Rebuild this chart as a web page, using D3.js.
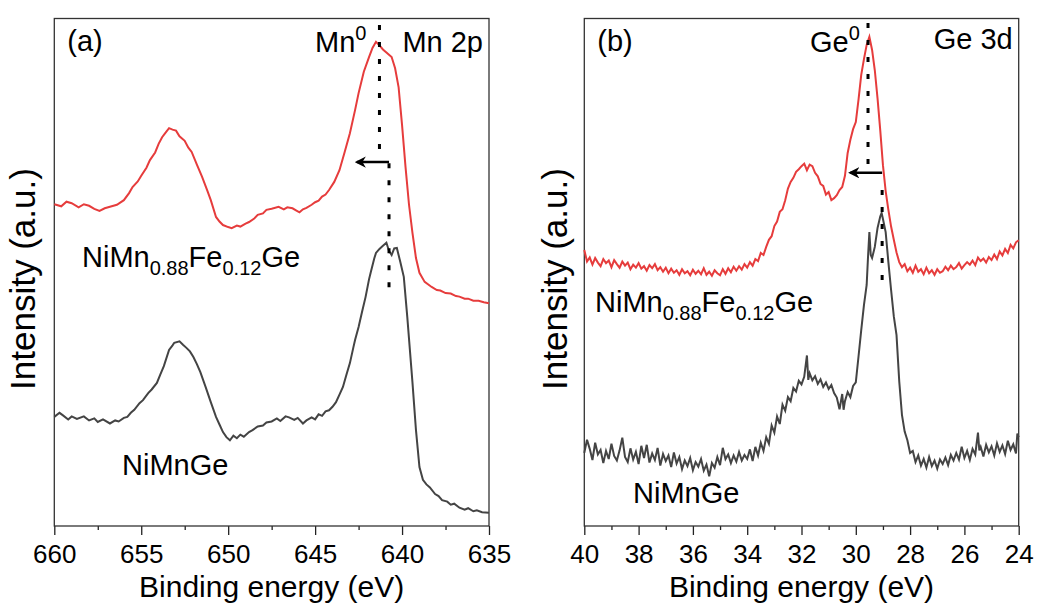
<!DOCTYPE html>
<html>
<head>
<meta charset="utf-8">
<script src="https://cdn.jsdelivr.net/npm/d3@7"></script>
<style>
  body { margin: 0; background: #fff; }
  svg { font-family: "Liberation Sans", Arial, sans-serif; }
</style>
</head>
<body>
<svg width="1038" height="604"></svg>
<script>
// Mn 2p panel, [binding energy, intensity a.u.]
var mnFe = [[660,63.4],[659.6,63.0],[659.3,63.9],[659,63.6],[658.6,62.8],[658.3,63.4],[658,63.1],[657.7,62.5],[657.4,62.1],[657.1,62.6],
  [656.8,62.9],[656.4,63.3],[656,64.2],[655.7,65.6],[655.5,66.8],[655.2,67.9],[655,69.0],[654.7,70.6],[654.5,72.1],[654.2,73.6],
  [654,75.3],[653.8,76.6],[653.6,77.5],[653.4,78.4],[653.2,78.1],[653,77.9],[652.8,76.8],[652.5,75.9],[652.3,74.6],[652.1,73.7],
  [651.8,71.2],[651.5,68.8],[651.2,66.1],[651,64.2],[650.7,60.9],[650.5,60.0],[650.3,59.3],[650,58.9],[649.8,58.7],[649.5,59.2],
  [649.3,59.0],[649,59.6],[648.8,59.9],[648.5,60.6],[648.3,61.3],[648,61.6],[647.8,62.3],[647.5,62.5],[647.1,62.9],[646.8,62.4],
  [646.6,62.8],[646.3,62.6],[646.1,62.2],[645.9,61.8],[645.7,62.4],[645.5,62.7],[645.2,63.3],[645,63.8],[644.8,64.1],[644.6,64.9],
  [644.4,65.3],[644.2,66.2],[643.9,67.8],[643.6,70.1],[643.3,73.7],[643,77.4],[642.7,82.0],[642.5,85.3],[642.2,89.5],[641.9,92.4],
  [641.7,94.2],[641.5,95.4],[641.3,94.7],[641.1,93.9],[640.9,93.3],[640.6,92.4],[640.4,90.2],[640.2,86.5],[640,79.0],[639.8,70.7],
  [639.6,63.3],[639.4,57.7],[639.2,52.8],[639,49.9],[638.7,48.1],[638.3,47.1],[638,46.5],[637.8,46.4],[637.5,45.9],[637.2,45.8],
  [636.9,45.3],[636.7,45.2],[636.4,44.8],[636.2,44.8],[635.9,44.4],[635.6,44.4],[635.3,44.1],[635,43.9]];
var mnPure = [[660,21.5],[659.7,22.3],[659.5,21.8],[659.2,21.0],[659,21.6],[658.7,21.1],[658.3,21.6],[658,20.8],[657.7,21.2],[657.5,20.5],
  [657.2,21.0],[656.8,20.2],[656.5,20.8],[656.3,20.6],[656,21.3],[655.8,21.5],[655.6,22.3],[655.4,22.9],[655.1,24.2],[654.9,24.8],
  [654.6,26.2],[654.4,26.9],[654.1,28.2],[653.9,29.9],[653.7,31.5],[653.4,34.7],[653.2,35.6],[653.1,36.1],[652.8,36.4],[652.6,35.7],
  [652.4,35.1],[652.2,34.4],[652,33.3],[651.8,31.9],[651.6,30.3],[651.3,27.4],[651,24.4],[650.7,21.5],[650.5,20.0],[650.3,18.5],
  [650.1,17.5],[649.9,16.9],[649.7,17.8],[649.5,17.3],[649.3,18.0],[649.1,17.6],[648.8,18.5],[648.6,18.9],[648.3,19.6],[648,19.8],
  [647.8,20.4],[647.5,20.6],[647.2,21.2],[647,20.7],[646.7,21.6],[646.5,21.4],[646.2,20.9],[646,21.3],[645.7,20.2],[645.5,20.8],
  [645.2,21.4],[645,21.0],[644.8,22.0],[644.6,21.7],[644.4,22.6],[644.2,22.8],[644,23.5],[643.8,24.4],[643.6,25.9],[643.4,27.4],
  [643.2,29.8],[643,32.1],[642.8,35.2],[642.7,36.7],[642.5,39.2],[642.3,42.2],[642.1,45.1],[641.9,48.6],[641.8,50.0],[641.6,52.7],
  [641.5,53.8],[641.3,54.6],[641.1,55.2],[640.9,55.8],[640.75,54.2],[640.6,53.4],[640.45,54.7],[640.3,54.8],[640.1,52.0],[639.9,49.1],
  [639.7,41.2],[639.55,34.7],[639.4,28.2],[639.2,18.9],[639,11.6],[638.8,9.1],[638.6,8.2],[638.4,7.6],[638.1,6.3],[637.9,5.9],
  [637.7,5.1],[637.4,4.8],[637.2,4.2],[637,4.4],[636.7,3.6],[636.4,3.2],[636.2,3.5],[635.9,2.9],[635.7,3.1],[635.4,2.7],[635,2.6]];

// Ge 3d panel
var geFe = [[40,54.4],[39.9,52.1],[39.8,52.9],[39.7,51.5],[39.6,52.8],[39.5,51.9],[39.4,51.2],[39.3,52.6],[39.2,51.8],[39.1,52.3],
  [39,51.0],[38.9,52.4],[38.8,51.6],[38.7,50.9],[38.6,52.1],[38.5,51.3],[38.4,51.9],[38.3,50.6],[38.2,51.5],[38.1,50.9],
  [38,51.8],[37.9,50.7],[37.8,51.2],[37.7,50.3],[37.6,51.4],[37.5,50.8],[37.4,51.6],[37.3,50.4],[37.2,51.0],[37.1,50.1],
  [37,50.9],[36.9,49.8],[36.8,50.7],[36.7,49.9],[36.6,50.4],[36.5,49.5],[36.4,50.6],[36.3,49.8],[36.2,50.2],[36.1,49.4],
  [36,50.5],[35.9,49.7],[35.8,50.3],[35.7,49.6],[35.6,50.8],[35.5,49.5],[35.4,50.1],[35.3,49.3],[35.2,50.4],[35.1,49.8],
  [35,49.4],[34.9,50.6],[34.8,49.7],[34.7,50.8],[34.6,50.0],[34.5,51.1],[34.4,50.3],[34.3,51.2],[34.2,50.5],[34.1,51.6],
  [34,50.9],[33.9,52.0],[33.8,51.3],[33.7,52.6],[33.6,52.2],[33.5,53.8],[33.4,53.4],[33.3,55.0],[33.2,56.4],[33.1,57.1],
  [33,59.1],[32.9,60.0],[32.8,61.9],[32.7,62.4],[32.6,64.2],[32.5,66.5],[32.4,67.8],[32.3,68.6],[32.2,69.8],[32.1,70.3],
  [32,70.9],[31.9,71.4],[31.8,70.1],[31.7,71.2],[31.6,70.9],[31.5,69.6],[31.4,68.9],[31.3,67.4],[31.2,67.0],[31.1,65.3],
  [31,65.8],[30.9,64.2],[30.8,64.6],[30.7,65.2],[30.6,66.2],[30.5,66.8],[30.4,69.0],[30.3,73.5],[30.2,76.1],[30.1,78.2],
  [30,79.6],[29.9,84.0],[29.8,88.9],[29.7,92.0],[29.6,94.8],[29.5,96.4],[29.4,93.8],[29.3,89.8],[29.2,84.3],[29.1,78.0],
  [29,71.1],[28.9,66.0],[28.8,62.3],[28.7,59.0],[28.6,56.4],[28.5,53.9],[28.4,52.0],[28.3,51.0],[28.2,51.6],[28.1,50.2],
  [28,50.9],[27.9,49.9],[27.8,51.3],[27.7,50.1],[27.6,50.6],[27.5,49.6],[27.4,50.9],[27.3,49.8],[27.2,50.4],[27.1,49.5],
  [27,50.6],[26.9,49.9],[26.8,50.2],[26.7,51.1],[26.6,50.4],[26.5,51.3],[26.4,50.6],[26.3,51.0],[26.2,51.8],[26.1,50.7],
  [26,51.4],[25.9,52.0],[25.8,51.5],[25.7,52.3],[25.6,51.4],[25.5,52.9],[25.4,52.2],[25.3,52.7],[25.2,51.9],[25.1,53.0],
  [25,52.4],[24.9,53.5],[24.8,52.6],[24.7,54.1],[24.6,53.3],[24.5,54.6],[24.4,53.8],[24.3,55.4],[24.2,54.7],[24.1,55.9],[24,56.3]];
var gePure = [[40,14.4],[39.9,17.0],[39.8,15.2],[39.7,13.0],[39.6,16.4],[39.5,14.1],[39.4,15.0],[39.3,12.4],[39.2,14.8],[39.1,13.2],
  [39,16.2],[38.9,13.8],[38.8,12.9],[38.7,14.9],[38.6,17.4],[38.5,13.6],[38.4,12.6],[38.3,15.3],[38.2,13.1],[38.1,14.6],
  [38,12.2],[37.9,15.8],[37.8,13.4],[37.7,16.0],[37.6,12.5],[37.5,14.3],[37.4,13.0],[37.3,15.4],[37.2,11.9],[37.1,14.2],
  [37,12.8],[36.9,13.9],[36.8,11.6],[36.7,14.5],[36.6,12.3],[36.5,13.6],[36.4,11.2],[36.3,12.9],[36.2,11.8],[36.1,13.4],
  [36,11.0],[35.9,12.6],[35.8,11.7],[35.7,13.2],[35.6,10.9],[35.5,12.1],[35.4,9.8],[35.3,12.4],[35.2,11.5],[35.1,13.6],
  [35,12.0],[34.9,15.4],[34.8,13.2],[34.7,14.1],[34.6,12.4],[34.5,13.9],[34.4,12.7],[34.3,14.6],[34.2,12.9],[34.1,14.0],
  [34,13.2],[33.9,15.1],[33.8,12.8],[33.7,15.6],[33.6,13.9],[33.5,16.4],[33.4,14.8],[33.3,17.5],[33.2,16.2],[33.1,19.8],
  [33,18.4],[32.9,21.6],[32.8,20.1],[32.7,23.9],[32.6,22.7],[32.5,25.4],[32.4,24.6],[32.3,27.2],[32.2,26.5],[32.1,28.6],
  [32,27.9],[31.9,29.4],[31.8,33.6],[31.75,28.8],[31.7,30.1],[31.6,28.7],[31.5,29.5],[31.4,28.0],[31.3,28.9],[31.2,27.4],
  [31.1,28.3],[31,27.0],[30.9,27.8],[30.8,26.2],[30.7,25.3],[30.6,23.0],[30.5,26.0],[30.45,22.9],[30.4,24.6],[30.3,26.4],
  [30.2,25.4],[30.1,27.6],[30,28.3],[29.9,33.4],[29.8,38.6],[29.7,43.5],[29.6,47.5],[29.55,53.0],[29.5,57.9],[29.45,53.4],
  [29.4,52.8],[29.3,55.0],[29.2,58.7],[29.1,61.0],[29.05,61.7],[29,60.5],[28.9,57.9],[28.8,52.0],[28.7,46.5],[28.6,41.3],
  [28.5,37.6],[28.4,28.5],[28.3,21.9],[28.2,18.6],[28.1,16.9],[28,14.4],[27.9,14.8],[27.8,12.6],[27.7,13.9],[27.6,11.9],
  [27.5,13.2],[27.4,11.5],[27.3,13.6],[27.2,11.8],[27.1,12.9],[27,11.3],[26.9,13.1],[26.8,12.2],[26.7,13.5],[26.6,12.0],
  [26.5,14.0],[26.4,12.9],[26.3,14.4],[26.2,13.1],[26.1,15.6],[26,13.4],[25.9,14.8],[25.8,13.0],[25.7,15.2],[25.6,14.1],
  [25.5,18.4],[25.45,14.9],[25.4,15.6],[25.3,13.7],[25.2,16.0],[25.1,14.5],[25,15.7],[24.9,13.9],[24.8,16.3],[24.7,14.6],
  [24.6,15.9],[24.5,14.2],[24.4,16.8],[24.3,15.0],[24.2,16.1],[24.1,14.3],[24.05,18.2],[24,17.5]];

var mnTicks = [660, 655, 650, 645, 640, 635];
var geTicks = [40, 38, 36, 34, 32, 30, 28, 26, 24];

// reference lines: [energy, from, to] and shift arrows [from, to, level]
var mnRef = [[641.3, 98.7, 73.1], [640.75, 71.5, 45.9]];
var mnArrow = [640.75, 642.6, 71.7];
var geRef = [[29.55, 99.1, 70.1], [29.03, 66.2, 47.5]];
var geArrow = [29.03, 30.2, 69.6];

var red = "#e63c3c", gray = "#444";
var svg = d3.select("svg");
var plotTop = 18.5, plotBottom = 526;
var y = d3.scaleLinear().domain([0, 100]).range([plotBottom, plotTop]);

svg.append("defs").append("marker")
  .attr("id", "head").attr("viewBox", "0 0 10 10")
  .attr("refX", 8).attr("refY", 5)
  .attr("markerWidth", 4.5).attr("markerHeight", 4.5)
  .attr("orient", "auto-start-reverse")
  .append("path").attr("d", "M0,0L10,5L0,10L3,5Z").attr("fill", "#000");

function panel(o) {
  var x = d3.scaleLinear().domain(o.domain).range([o.left, o.right]);
  var g = svg.append("g");

  var minor = [];
  for (var i = 0; i < o.ticks.length - 1; i++) minor.push((o.ticks[i] + o.ticks[i + 1]) / 2);

  g.append("g").attr("transform", "translate(0," + plotBottom + ")")
    .call(d3.axisBottom(x).tickValues(minor).tickSize(4).tickFormat(""))
    .call(function(a) { a.select(".domain").remove(); a.selectAll("line").attr("stroke", "#222").attr("stroke-width", 1.3); });
  g.append("g").attr("transform", "translate(0," + plotBottom + ")")
    .call(d3.axisBottom(x).tickValues(o.ticks).tickSize(9).tickPadding(10).tickFormat(d3.format("d")))
    .call(function(a) {
      a.select(".domain").remove();
      a.selectAll("line").attr("stroke", "#222").attr("stroke-width", 1.3);
      a.selectAll("text").attr("font-size", 26).attr("fill", "#000")
        .attr("font-family", "'Liberation Sans', Arial, sans-serif");
    });

  g.append("rect").attr("x", o.left).attr("y", plotTop)
    .attr("width", o.right - o.left).attr("height", plotBottom - plotTop)
    .attr("fill", "none").attr("stroke", "#333").attr("stroke-width", 1.3);

  var line = d3.line().x(function(d) { return x(d[0]); }).y(function(d) { return y(d[1]); });
  g.append("path").datum(o.fe).attr("d", line).attr("fill", "none").attr("stroke", red).attr("stroke-width", 2);
  g.append("path").datum(o.pure).attr("d", line).attr("fill", "none").attr("stroke", gray).attr("stroke-width", 2);

  o.ref.forEach(function(r) {
    g.append("line").attr("x1", x(r[0])).attr("x2", x(r[0])).attr("y1", y(r[1])).attr("y2", y(r[2]))
      .attr("stroke", "#000").attr("stroke-width", 3).attr("stroke-dasharray", "5,12");
  });
  g.append("line").attr("x1", x(o.arrow[0])).attr("x2", x(o.arrow[1]))
    .attr("y1", y(o.arrow[2])).attr("y2", y(o.arrow[2]))
    .attr("stroke", "#000").attr("stroke-width", 2.5).attr("marker-end", "url(#head)");

  // x title
  g.append("text").attr("x", (o.left + o.right) / 2).attr("y", 597)
    .attr("text-anchor", "middle").attr("font-size", 30).text("Binding energy (eV)");
  // y title
  g.append("text").attr("transform", "translate(" + o.ylab + ",279) rotate(-90)")
    .attr("text-anchor", "middle").attr("font-size", 35).text("Intensity (a.u.)");

  g.append("text").attr("x", o.left + 13).attr("y", 51).attr("font-size", 29).text(o.tag);

  var el = g.append("text").attr("x", o.elX).attr("y", 52).attr("font-size", 29);
  el.append("tspan").text(o.el);
  el.append("tspan").attr("font-size", 20).attr("dy", -12).text("0");

  g.append("text").attr("x", o.right - 6).attr("y", o.coreY).attr("text-anchor", "end")
    .attr("font-size", 29).text(o.core);

  var lab = g.append("text").attr("x", o.feX).attr("y", o.feY).attr("font-size", 29);
  lab.append("tspan").text("NiMn");
  lab.append("tspan").attr("font-size", 20).attr("dy", 8).text("0.88");
  lab.append("tspan").attr("dy", -8).text("Fe");
  lab.append("tspan").attr("font-size", 20).attr("dy", 8).text("0.12");
  lab.append("tspan").attr("dy", -8).text("Ge");

  g.append("text").attr("x", o.pureX).attr("y", o.pureY).attr("font-size", 29).text("NiMnGe");
}

panel({ domain: [660, 635], left: 54.3, right: 489, ticks: mnTicks, fe: mnFe, pure: mnPure,
  ref: mnRef, arrow: mnArrow, ylab: 35, tag: "(a)", el: "Mn", elX: 315, core: "Mn 2p", coreY: 52,
  feX: 82, feY: 267, pureX: 122, pureY: 475 });
panel({ domain: [40, 24], left: 584.3, right: 1018.7, ticks: geTicks, fe: geFe, pure: gePure,
  ref: geRef, arrow: geArrow, ylab: 567, tag: "(b)", el: "Ge", elX: 810, core: "Ge 3d", coreY: 49,
  feX: 595, feY: 312, pureX: 633, pureY: 503 });
</script>
</body>
</html>
